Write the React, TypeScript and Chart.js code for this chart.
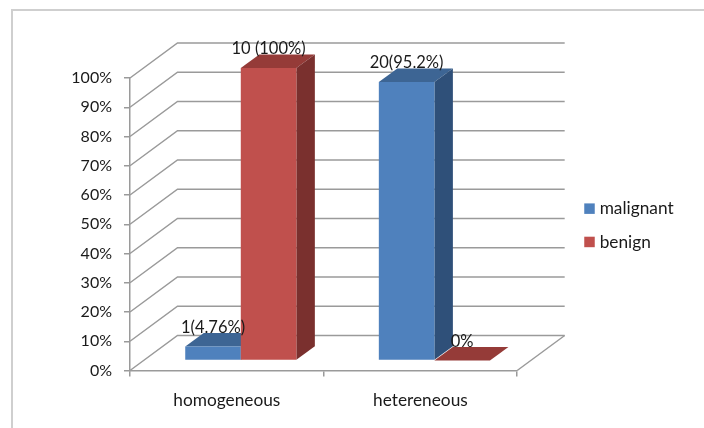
import React, { useEffect, useRef } from "react";
import { Chart, registerables } from "chart.js";

Chart.register(...registerables);

const categories = ["homogeneous", "hetereneous"];
const malignantValues = [4.76, 95.2];
const benignValues = [100, 0];
const malignantLabels = ["1(4.76%)", "20(95.2%)"];
const benignLabels = ["10 (100%)", "0%"];
const seriesNames = ["malignant", "benign"];

const FONT = "Lato, Carlito, sans-serif";
const TEXT = "#1a1a1a";
const GRID = "#9a9a9a";

const palette = [
  { front: "#4f81bd", top: "#3d6594", side: "#2f5079" },
  { front: "#c0504d", top: "#953b38", side: "#7a302e" },
];
const wall = { dx: 47.5, dy: -35 };
const barShift = { dx: 14, dy: -10 };
const barDepth = { dx: 18.5, dy: -13.5 };
const dataLabels = [malignantLabels, benignLabels];

function poly(ctx: CanvasRenderingContext2D, pts: number[][], fill: string) {
  ctx.beginPath();
  pts.forEach(([x, y], i) => (i ? ctx.lineTo(x, y) : ctx.moveTo(x, y)));
  ctx.closePath();
  ctx.fillStyle = fill;
  ctx.fill();
}

function paintDataset(chart: any, index: number) {
  const ctx = chart.ctx as CanvasRenderingContext2D;
  const meta = chart.getDatasetMeta(index);
  const c = palette[index];
  ctx.save();
  ctx.translate(barShift.dx, barShift.dy);
  meta.data.forEach((bar: any) => {
    const { x, y, base, width } = bar.getProps(["x", "y", "base", "width"], true);
    const l = x - width / 2;
    const r = x + width / 2;
    const d = barDepth;
    poly(ctx, [[l, y], [r, y], [r + d.dx, y + d.dy], [l + d.dx, y + d.dy]], c.top);
    poly(ctx, [[r, y], [r, base], [r + d.dx, base + d.dy], [r + d.dx, y + d.dy]], c.side);
  });
  meta.controller.draw();
  ctx.restore();
}

const bars3d = {
  id: "bars3d",
  afterLayout(chart: any) {
    const lg = chart.legend;
    const h = lg.bottom - lg.top;
    lg.left = 572;
    lg.right = 704;
    lg.top = 184;
    lg.bottom = 184 + h;
  },
  beforeDatasetsDraw(chart: any) {
    const ctx = chart.ctx as CanvasRenderingContext2D;
    const { x, y } = chart.scales;
    ctx.save();
    ctx.strokeStyle = GRID;
    ctx.lineWidth = 1.5;
    const ticks = y.ticks.map((t: any) => y.getPixelForValue(t.value));
    ticks.forEach((py: number) => {
      ctx.beginPath();
      ctx.moveTo(x.left, py);
      ctx.lineTo(x.left + wall.dx, py + wall.dy);
      ctx.lineTo(x.right + wall.dx, py + wall.dy);
      ctx.stroke();
    });
    const base = y.getPixelForValue(0);
    ctx.beginPath();
    ctx.moveTo(x.right, base);
    ctx.lineTo(x.right + wall.dx, base + wall.dy);
    ctx.stroke();
    ctx.restore();
  },
  beforeDatasetDraw(chart: any, args: any) {
    if (args.index === 0) {
      paintDataset(chart, 0);
      paintDataset(chart, 1);
    }
    return false;
  },
  afterDatasetsDraw(chart: any) {
    const ctx = chart.ctx as CanvasRenderingContext2D;
    ctx.save();
    ctx.font = `16.5px ${FONT}`;
    ctx.fillStyle = TEXT;
    ctx.textAlign = "center";
    ctx.textBaseline = "middle";
    dataLabels.forEach((labels, i) => {
      chart.getDatasetMeta(i).data.forEach((bar: any, j: number) => {
        const { x, y } = bar.getProps(["x", "y"], true);
        ctx.fillText(labels[j], x + barShift.dx, y + barShift.dy - 19);
      });
    });
    ctx.restore();
  },
};

export default function App() {
  const ref = useRef<HTMLCanvasElement>(null);
  useEffect(() => {
    document.body.style.margin = "0";
    document.body.style.background = "#fff";
    const chart = new Chart(ref.current!, {
      type: "bar",
      data: {
        labels: categories,
        datasets: [
          { label: seriesNames[0], data: malignantValues, backgroundColor: palette[0].front },
          { label: seriesNames[1], data: benignValues, backgroundColor: palette[1].front },
        ],
      },
      options: {
        animation: false,
        responsive: false,
        devicePixelRatio: 1,
        events: [],
        layout: { padding: { left: 0, right: 75.2, top: 78, bottom: 0 } },
        categoryPercentage: 0.574,
        barPercentage: 1,
        plugins: {
          tooltip: { enabled: false },
          title: { display: false },
          legend: {
            position: "right",
            align: "start",
            labels: {
              usePointStyle: true,
              pointStyle: "rect",
              boxWidth: 3,
              boxHeight: 10.5,
              padding: 16,
              color: TEXT,
              font: { family: FONT, size: 17.3 },
            },
          },
        },
        scales: {
          x: {
            afterFit: (s: any) => { s.height = 57.5; },
            grid: { drawOnChartArea: false, drawTicks: true, tickLength: 6, color: GRID, lineWidth: 1.5 },
            border: { color: GRID, width: 1.5 },
            ticks: { color: TEXT, font: { family: FONT, size: 17.3 }, padding: 14, maxRotation: 0 },
          },
          y: {
            min: 0,
            max: 100,
            afterFit: (s: any) => { s.width = 130; },
            grid: { drawOnChartArea: false, drawTicks: true, tickLength: 6, color: GRID, lineWidth: 1.5 },
            border: { color: GRID, width: 1.5 },
            ticks: {
              stepSize: 10,
              color: TEXT,
              font: { family: FONT, size: 16 },
              padding: 12,
              callback: (v: any) => `${v}%`,
            },
          },
        },
      } as any,
      plugins: [bars3d as any],
    });
    return () => chart.destroy();
  }, []);
  return (
    <div style={{ position: "relative", width: 704, height: 428, background: "#fff", overflow: "hidden" }}>
      <div style={{ position: "absolute", left: 11, top: 9, width: 720, height: 440, border: "2px solid #cfcfcf", boxSizing: "border-box" }} />
      <canvas ref={ref} width={704} height={428} style={{ position: "absolute", left: 0, top: 0 }} />
    </div>
  );
}
